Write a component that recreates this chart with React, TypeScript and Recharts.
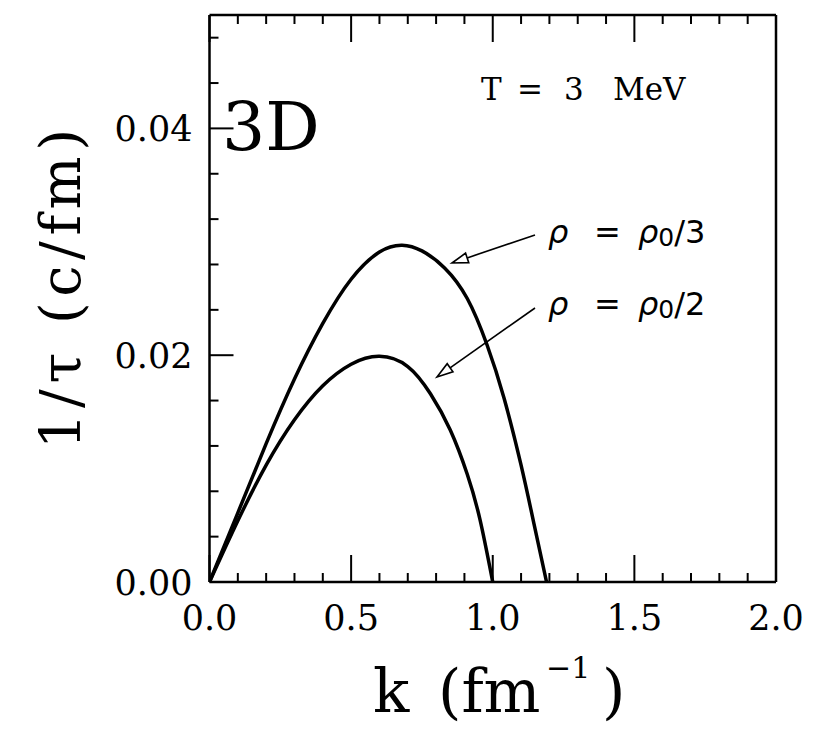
import React from "react";
import { LineChart, Line, XAxis, YAxis } from "recharts";

// ── data ───────────────────────────────────────────────────────────────────
const kThird = [0, 0.1, 0.2, 0.3, 0.4, 0.5, 0.6, 0.68, 0.75, 0.83, 0.91, 0.98, 1.04, 1.1, 1.145, 1.19];
const rateThird = [0, 0.0061, 0.0122, 0.0179, 0.0228, 0.0267, 0.0291, 0.0297, 0.0292, 0.0277, 0.025, 0.0209, 0.0162, 0.0103, 0.0052, 0];

const kHalf = [0, 0.1, 0.2, 0.3, 0.4, 0.5, 0.6, 0.7, 0.78, 0.85, 0.91, 0.955, 1.0];
const rateHalf = [0, 0.0054, 0.0103, 0.0143, 0.0173, 0.0192, 0.0199, 0.019, 0.0166, 0.0134, 0.0095, 0.0055, 0];

const xTicks = [0, 0.1, 0.2, 0.3, 0.4, 0.5, 0.6, 0.7, 0.8, 0.9, 1.0, 1.1, 1.2, 1.3, 1.4, 1.5, 1.6, 1.7, 1.8, 1.9, 2.0];
const yTicks = [0, 0.004, 0.008, 0.012, 0.016, 0.02, 0.024, 0.028, 0.032, 0.036, 0.04, 0.044, 0.048];

const third = kThird.map((k, i) => ({ k, v: rateThird[i] }));
const half = kHalf.map((k, i) => ({ k, v: rateHalf[i] }));

const W = 825;
const H = 728;
const SERIF = "'DejaVu Serif', serif";
const SANS = "'DejaVu Sans', sans-serif";

const isMajorX = (v: number) => Math.abs(v * 2 - Math.round(v * 2)) < 1e-6;
const isMajorY = (v: number) => Math.abs(v * 50 - Math.round(v * 50)) < 1e-6;

// ticks point inward; labels only on the majors
const BottomTick = ({ x, y, payload }: any) => {
  const major = isMajorX(payload.value);
  return (
    <g>
      <line x1={x} y1={y} x2={x} y2={y - (major ? 27 : 9)} stroke="#000" strokeWidth={2} />
      {major && (
        <text x={x} y={y + 48} textAnchor="middle" fontFamily={SERIF} fontSize={35} fill="#000">
          {payload.value.toFixed(1)}
        </text>
      )}
    </g>
  );
};
const TopTick = ({ x, y, payload }: any) => (
  <line x1={x} y1={y} x2={x} y2={y + (isMajorX(payload.value) ? 27 : 9)} stroke="#000" strokeWidth={2} />
);
const LeftTick = ({ x, y, payload }: any) => {
  const major = isMajorY(payload.value);
  return (
    <g>
      <line x1={x} y1={y} x2={x + (major ? 24 : 9)} y2={y} stroke="#000" strokeWidth={2} />
      {major && (
        <text x={x - 17} y={y} dy="0.36em" textAnchor="end" fontFamily={SERIF} fontSize={35} fill="#000">
          {payload.value.toFixed(2)}
        </text>
      )}
    </g>
  );
};
const RightTick = ({ x, y, payload }: any) => (
  <line x1={x} y1={y} x2={x - (isMajorY(payload.value) ? 24 : 9)} y2={y} stroke="#000" strokeWidth={2} />
);

const Arrow = ({ x1, y1, x2, y2 }: { x1: number; y1: number; x2: number; y2: number }) => {
  const a = Math.atan2(y2 - y1, x2 - x1);
  const len = 16;
  const w = 5;
  const bx = x2 - len * Math.cos(a);
  const by = y2 - len * Math.sin(a);
  const px = -Math.sin(a) * w;
  const py = Math.cos(a) * w;
  return (
    <g>
      <line x1={x1} y1={y1} x2={bx} y2={by} stroke="#000" strokeWidth={1.6} />
      <polygon points={`${x2},${y2} ${bx + px},${by + py} ${bx - px},${by - py}`} fill="#fff" stroke="#000" strokeWidth={1.6} />
    </g>
  );
};

const RhoLabel = ({ y, d }: { y: number; d: string }) => (
  <g fill="#000" fontSize={32}>
    <text x={540} y={y} fontFamily={SANS} fontStyle="italic">ρ</text>
    <text x={586} y={y} fontFamily={SANS}>=</text>
    <text x={630} y={y} fontFamily={SANS}>
      <tspan fontStyle="italic">ρ</tspan>
      <tspan fontSize={25} dy={3}>0</tspan>
      <tspan dy={-3}>/{d}</tspan>
    </text>
  </g>
);

export default function App() {
  return (
    <div style={{ position: "relative", width: W, height: H, background: "#fff" }}>
      <LineChart width={W} height={H} data={third} margin={{ top: 6, right: 47, left: 141.5, bottom: 124 }}>
        <XAxis
          dataKey="k" type="number" domain={[0, 2]} ticks={xTicks} interval={0} allowDataOverflow
          height={30} tickSize={0} tickMargin={0} tickLine={false}
          axisLine={{ stroke: "#000", strokeWidth: 2.5 }} tick={<BottomTick />}
        />
        <XAxis
          xAxisId="top" orientation="top" dataKey="k" type="number" domain={[0, 2]} ticks={xTicks} interval={0}
          height={1} tickSize={0} tickMargin={0} tickLine={false}
          axisLine={{ stroke: "#000", strokeWidth: 2.5 }} tick={<TopTick />}
        />
        <YAxis
          type="number" domain={[0, 0.05]} ticks={yTicks} interval={0} allowDataOverflow
          width={60} tickSize={0} tickMargin={0} tickLine={false}
          axisLine={{ stroke: "#000", strokeWidth: 2.5 }} tick={<LeftTick />}
        />
        <YAxis
          yAxisId="right" orientation="right" type="number" domain={[0, 0.05]} ticks={yTicks} interval={0}
          width={10} tickSize={0} tickMargin={0} tickLine={false}
          axisLine={{ stroke: "#000", strokeWidth: 2.5 }} tick={<RightTick />}
        />
        <Line data={third} dataKey="v" type="natural" stroke="#000" strokeWidth={3.5} dot={false} isAnimationActive={false} />
        <Line data={half} dataKey="v" type="natural" stroke="#000" strokeWidth={3.5} dot={false} isAnimationActive={false} />
      </LineChart>

      <svg width={W} height={H} style={{ position: "absolute", left: 0, top: 0, pointerEvents: "none" }}>
        <text x={214} y={142} fontFamily={SERIF} fontSize={68} fill="#000">3D</text>
        <g fontFamily={SERIF} fontSize={31} fill="#000">
          <text x={473} y={92}>T</text>
          <text x={509} y={92}>=</text>
          <text x={556} y={92}>3</text>
          <text x={605} y={92}>MeV</text>
        </g>

        <RhoLabel y={235} d="3" />
        <RhoLabel y={307} d="2" />
        <Arrow x1={527} y1={227} x2={444} y2={255} />
        <Arrow x1={527} y1={300} x2={429} y2={369} />

        <text
          transform="translate(72 281) rotate(-90)" textAnchor="middle" fontFamily={SERIF} fontSize={56}
          fill="#000" textLength={320} lengthAdjust="spacing"
        >
          1/τ (c/fm)
        </text>
        <g fontFamily={SERIF} fill="#000">
          <text x={365} y={704} fontSize={60}>k</text>
          <text x={430} y={704} fontSize={60}>(fm</text>
          <text x={538} y={670} fontSize={30}>−1</text>
          <text x={594} y={704} fontSize={60}>)</text>
        </g>
      </svg>
    </div>
  );
}
